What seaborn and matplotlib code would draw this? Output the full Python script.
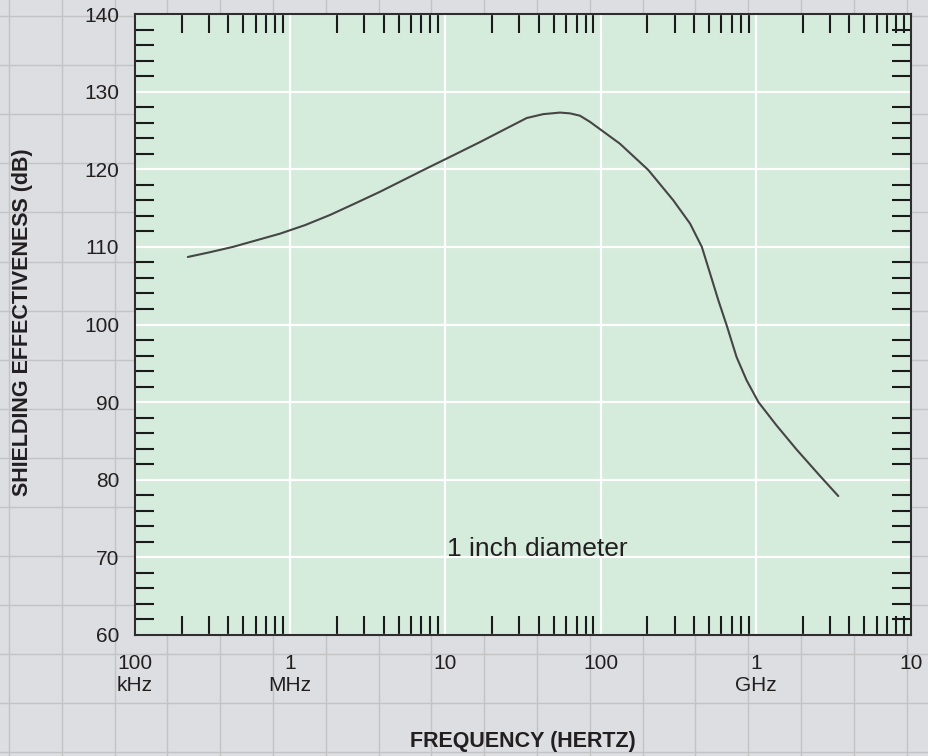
import matplotlib
matplotlib.use("Agg")
import matplotlib.pyplot as plt
import seaborn as sns
import numpy as np
import pandas as pd
from matplotlib.ticker import FixedLocator, LogLocator, MultipleLocator, NullFormatter

# Values
freq_hz = [2.19e5, 3.02e5, 4.28e5, 8.59e5, 1.245e6, 1.80e6, 2.62e6, 3.79e6,
           5.35e6, 7.21e6, 1.125e7, 1.67e7, 2.36e7, 3.34e7, 4.27e7, 5.47e7,
           6.35e7, 7.36e7, 8.55e7, 1.33e8, 2.03e8, 2.94e8, 3.77e8, 4.49e8,
           5.07e8, 5.74e8, 6.49e8, 7.52e8, 8.73e8, 1.04e9, 1.36e9, 1.83e9,
           2.59e9, 3.40e9]
shielding_db = [108.7, 109.3, 110.0, 111.7, 112.8, 114.1, 115.6, 117.1,
                118.6, 119.9, 121.8, 123.5, 125.05, 126.6, 127.1, 127.3,
                127.2, 126.9, 126.1, 123.3, 119.9, 116.0, 113.0, 110.0,
                106.6, 103.1, 99.9, 95.8, 92.8, 90.0, 87.0, 83.9,
                80.5, 77.9]

x_ticks = [1e5, 1e6, 1e7, 1e8, 1e9, 1e10]
x_tick_labels = ["100\nkHz", "1\nMHz", "10", "100", "1\nGHz", "10"]
y_ticks = [60, 70, 80, 90, 100, 110, 120, 130, 140]

df = pd.DataFrame({"freq": freq_hz, "db": shielding_db})

sns.set_style("white")
plt.rcParams["font.family"] = ["Liberation Sans", "DejaVu Sans"]

W, H = 929, 756
fig = plt.figure(figsize=(W / 100, H / 100), dpi=100)
fig.patch.set_facecolor("#dddee1")

# graph-paper background
bg = fig.add_axes([0, 0, 1, 1], zorder=-5)
bg.set_facecolor("#dddee1")
bg.set_xlim(0, W)
bg.set_ylim(H, 0)
for gx in np.arange(9, W, 52.8):
    bg.axvline(gx, color="#c3c3c6", lw=1.0)
for gy in np.arange(16, H, 49.1):
    bg.axhline(gy, color="#c3c3c6", lw=1.0)
bg.axis("off")

ax = fig.add_axes([135 / W, 1 - 635 / H, 776 / W, 621 / H])
ax.set_facecolor("#d5ebdc")
ax.set_xscale("log")

sns.lineplot(data=df, x="freq", y="db", ax=ax, color="#454545", linewidth=1.5,
             solid_joinstyle="round", solid_capstyle="round")

ax.set_xlim(1e5, 1e10)
ax.set_ylim(60, 140)

ax.xaxis.set_major_locator(FixedLocator(x_ticks))
ax.set_xticks(x_ticks)
ax.set_xticklabels(x_tick_labels)
ax.xaxis.set_minor_locator(LogLocator(base=10, subs=np.arange(2, 10)))
ax.xaxis.set_minor_formatter(NullFormatter())
ax.set_yticks(y_ticks)
ax.yaxis.set_minor_locator(MultipleLocator(2))

ax.grid(True, which="major", color="white", linewidth=1.6)
ax.set_axisbelow(True)

ax.tick_params(which="major", length=0, labelsize=15, labelcolor="#231f20")
ax.tick_params(axis="x", which="major", pad=14)
ax.tick_params(axis="y", which="major", pad=11.5)
ax.tick_params(which="minor", direction="in", length=13.7, width=1.5,
               color="#1a1a1a", top=True, bottom=True, left=True, right=True)

for s in ax.spines.values():
    s.set_visible(True)
    s.set_color("#2e2e2e")
    s.set_linewidth(1.5)

ax.set_xlabel("FREQUENCY (HERTZ)", fontsize=15.5, fontweight="bold", color="#231f20")
ax.xaxis.set_label_coords(0.5, -0.155)
ax.set_ylabel("SHIELDING EFFECTIVENESS (dB)", fontsize=15.5, fontweight="bold", color="#231f20")
ax.yaxis.set_label_coords(-0.131, 0.503)

ax.text(10 ** 7.59, 70.2, "1 inch diameter", fontsize=19, color="#231f20",
        ha="center", va="baseline")

fig.savefig("out.png", dpi=100, facecolor=fig.get_facecolor())
